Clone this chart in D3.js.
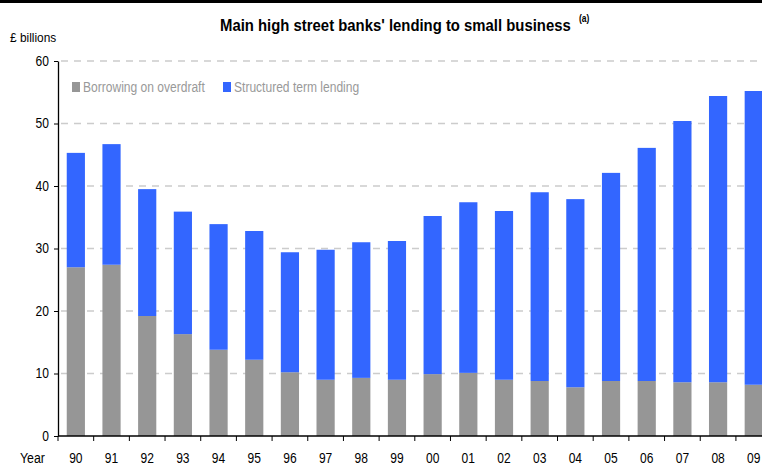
<!DOCTYPE html>
<html>
<head>
<meta charset="utf-8">
<script src="https://cdn.jsdelivr.net/npm/d3@7"></script>
<style>
  html, body { margin: 0; padding: 0; background: #fff; }
  svg { display: block; }
  text { font-family: "Liberation Sans Narrow", "Arial Narrow", "Liberation Sans", Arial, sans-serif; }
</style>
</head>
<body>
<svg id="chart" width="762" height="466"></svg>
<script>
// Years shown on the category axis
const years = ["90","91","92","93","94","95","96","97","98","99",
               "00","01","02","03","04","05","06","07","08","09"];

// £ billions outstanding, by type of lending
const overdraft = [27.0, 27.4, 19.2, 16.3, 13.8, 12.2, 10.2, 9.0, 9.3, 9.0,
                   9.9, 10.1, 9.0, 8.8, 7.8, 8.8, 8.8, 8.6, 8.6, 8.2];
const termLending = [18.3, 19.3, 20.3, 19.6, 20.1, 20.6, 19.2, 20.8, 21.7, 22.2,
                     25.3, 27.3, 27.0, 30.2, 30.1, 33.3, 37.3, 41.8, 45.8, 47.0];

const seriesNames = ["Borrowing on overdraft", "Structured term lending"];
const seriesColors = ["#969696", "#3366FF"];
const yTicks = [0, 10, 20, 30, 40, 50, 60];

const svg = d3.select("#chart");
const W = 762, H = 466;

// Squeeze text horizontally so a regular face reads like a narrow one
function narrow(sel, factor) {
  sel.each(function () {
    const len = this.getComputedTextLength();
    d3.select(this).attr("textLength", len * factor).attr("lengthAdjust", "spacingAndGlyphs");
  });
}

// Heavy rule across the top of the panel
svg.append("rect").attr("x", 0).attr("y", 0).attr("width", W).attr("height", 3).attr("fill", "#000");

// Title, condensed to a fixed width, and footnote marker
const titleG = svg.append("g");
const title = titleG.append("text")
  .attr("x", 0).attr("y", 0)
  .attr("font-size", 17).attr("font-weight", "bold").attr("fill", "#000")
  .text("Main high street banks' lending to small business");
const titleScale = 351 / title.node().getComputedTextLength();
titleG.attr("transform", `translate(220,31) scale(${titleScale},1)`);
svg.append("text").attr("x", 579).attr("y", 22).attr("font-size", 10).attr("font-weight", "bold")
  .attr("fill", "#000").text("(a)").call(narrow, 0.85);

// Unit label
svg.append("text").attr("x", 10).attr("y", 42).attr("font-size", 13.5).attr("fill", "#000")
  .text("£ billions").call(narrow, 0.88);

const plotLeft = 58, plotTop = 61, plotBottom = 436;
const step = 35.68;
const x = d3.scaleBand().domain(years)
  .range([plotLeft, plotLeft + step * years.length])
  .paddingInner(0.49).paddingOuter(0.245);
const y = d3.scaleLinear().domain([0, 60]).range([plotBottom, plotTop]);

// Dashed gridlines
svg.append("g").selectAll("line").data(yTicks.filter(d => d > 0)).join("line")
  .attr("x1", plotLeft + 3).attr("x2", W)
  .attr("y1", d => y(d)).attr("y2", d => y(d))
  .attr("stroke", "#cccccc").attr("stroke-width", 1.5)
  .attr("stroke-dasharray", "7,6");

// Stacked bars
const rows = years.map((yr, i) => ({ year: yr, overdraft: overdraft[i], term: termLending[i] }));
const stack = d3.stack().keys(["overdraft", "term"])(rows);
svg.append("g").selectAll("g").data(stack).join("g")
  .attr("fill", (d, i) => seriesColors[i])
  .selectAll("rect").data(d => d).join("rect")
  .attr("x", d => x(d.data.year))
  .attr("width", x.bandwidth())
  .attr("y", d => y(d[1]))
  .attr("height", d => y(d[0]) - y(d[1]));

// Y axis
const yAxis = d3.axisLeft(y).tickValues(yTicks).tickSize(4).tickPadding(5).tickSizeOuter(0);
const gy = svg.append("g").attr("transform", `translate(${plotLeft},0)`).call(yAxis);
gy.select(".domain").attr("stroke", "#000").attr("stroke-width", 1.3);
gy.selectAll(".tick line").attr("stroke", "#000");
gy.selectAll(".tick text").attr("font-size", 14).attr("fill", "#000")
  .attr("font-family", "'Liberation Sans Narrow', 'Liberation Sans', Arial, sans-serif")
  .call(narrow, 0.86);

// X axis: baseline, ticks between categories, year labels
const gx = svg.append("g");
gx.append("line").attr("x1", plotLeft).attr("x2", W).attr("y1", plotBottom).attr("y2", plotBottom)
  .attr("stroke", "#000").attr("stroke-width", 1.3);
const bounds = years.map(d => x(d) - x.step() * x.paddingOuter());
gx.selectAll("line.tk").data(bounds).join("line").attr("class", "tk")
  .attr("x1", d => d).attr("x2", d => d).attr("y1", plotBottom).attr("y2", plotBottom + 5)
  .attr("stroke", "#000");
gx.selectAll("text").data(years).join("text")
  .attr("x", d => x(d) + x.bandwidth() / 2).attr("y", 463)
  .attr("text-anchor", "middle").attr("font-size", 14).attr("fill", "#000")
  .text(d => d).call(narrow, 0.86);
svg.append("text").attr("x", 20).attr("y", 463).attr("font-size", 14).attr("fill", "#000")
  .text("Year").call(narrow, 0.88);

// Legend
const legendX = [72, 223];
const lg = svg.append("g").selectAll("g").data(seriesNames).join("g")
  .attr("transform", (d, i) => `translate(${legendX[i]},82)`);
lg.append("rect").attr("width", 8).attr("height", 10).attr("fill", (d, i) => seriesColors[i]);
lg.append("text").attr("x", 11).attr("y", 9.5).attr("font-size", 14).attr("fill", "#999999")
  .text(d => d).call(narrow, 0.86);
</script>
</body>
</html>
